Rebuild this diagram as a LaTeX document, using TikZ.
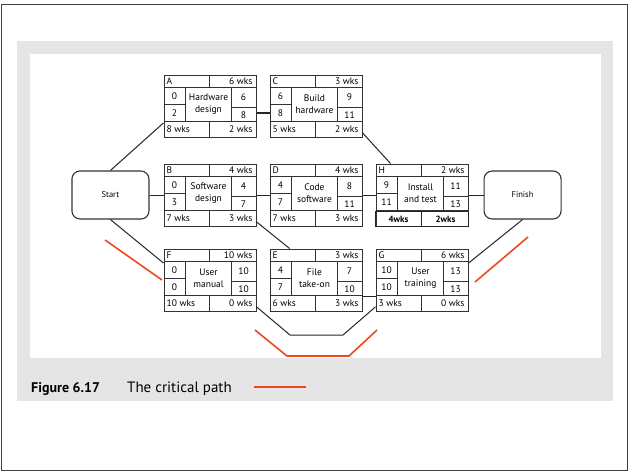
\documentclass[tikz,border=0pt]{standalone}
\usepackage{fontspec}
\setmainfont{PT Sans}
\usetikzlibrary{positioning}

\definecolor{panel}{RGB}{229,229,229}
\definecolor{critical}{RGB}{240,72,30}

\tikzset{
  act/.style={draw=black!80, line width=1pt, minimum width=92pt, minimum height=62pt, inner sep=0pt},
  grid/.style={draw=black!80, line width=0.9pt},
  cell/.style={inner sep=0pt, font=\fontsize{9.5}{11.5}\selectfont},
  terminal/.style={draw=black!80, line width=1.1pt, rounded corners=8pt, minimum width=77pt, minimum height=48pt, font=\fontsize{8.5}{10}\selectfont},
  link/.style={draw=black!85, line width=1pt},
  crit/.style={draw=critical, line width=1.6pt}
}

% grid and labels of one activity box
\newcommand{\fillbox}[9]{%
  \begin{scope}[shift={(#1.north west)}]
    \draw[grid] (0,12.5) -- (92,12.5) (0,47) -- (92,47)
      (46,0) -- (46,12.5) (22,12.5) -- (22,47) (68,12.5) -- (68,47)
      (0,30) -- (22,30) (68,33) -- (92,33) (46,47) -- (46,62);
    \node[cell, anchor=west] (#1-id) at (3,6.5) {#1};
    \node[cell, anchor=east] (#1-dur) at (89,6.5) {#2};
    \node[cell] (#1-es) at (11,21.5) {#3};
    \node[cell] (#1-ls) at (11,39) {#4};
    \node[cell] (#1-ef) at (80,23) {#5};
    \node[cell] (#1-lf) at (80,40.5) {#6};
    \node[cell, align=center] (#1-txt) at (45,29.5) {#7};
    \node[cell, anchor=west] (#1-tf) at (3,54.5) {#8};
    \node[cell, anchor=east] (#1-ff) at (89,54.5) {#9};
  \end{scope}}

\begin{document}
\begin{tikzpicture}[x=1pt, y=-1pt]
  \useasboundingbox (0,0) rectangle (629,471);
  \draw[black!75, line width=1pt] (1,4) rectangle (627,470);
  \fill[panel] (17,41) rectangle (613,401);
  \fill[white] (30,54) rectangle (601,358);

  % activities
  \node[act] (A) at (210,106) {};
  \node[act] (C) at (316,106) {};
  \node[act] (B) at (210,195) {};
  \node[act] (D) at (316,195) {};
  \node[act] (H) at (422,195) {};
  \node[act] (F) at (210,280) {};
  \node[act] (E) at (316,280) {};
  \node[act] (G) at (422,280) {};
  \node[terminal, left=14pt of B] (Start) {Start};
  \node[terminal, right=15pt of H] (Finish) {Finish};

  \fillbox{A}{6 wks}{0}{2}{6}{8}{Hardware\\design}{8 wks}{2 wks}
  \fillbox{C}{3 wks}{6}{8}{9}{11}{Build\\hardware}{5 wks}{2 wks}
  \fillbox{B}{4 wks}{0}{3}{4}{7}{Software\\design}{7 wks}{3 wks}
  \fillbox{D}{4 wks}{4}{7}{8}{11}{Code\\software}{7 wks}{3 wks}
  \fillbox{H}{2 wks}{9}{11}{11}{13}{Install\\and test}{}{}
  \fillbox{F}{10 wks}{0}{0}{10}{10}{User\\manual}{10 wks}{0 wks}
  \fillbox{E}{3 wks}{4}{7}{7}{10}{File\\take-on}{6 wks}{3 wks}
  \fillbox{G}{6 wks}{10}{10}{13}{13}{User\\training}{3 wks}{0 wks}

  % bold float row of H
  \draw[black!85, line width=1.4pt] ([yshift=15pt]H.south west) rectangle ([xshift=46pt]H.south west)
    ([xshift=46pt]H.south west) rectangle ([yshift=15pt]H.south east);
  \node[cell, font=\fontsize{9}{10}\bfseries] (H-tf) at ([xshift=23pt, yshift=7.5pt]H.south west) {4wks};
  \node[cell, font=\fontsize{9}{10}\bfseries] (H-ff) at ([xshift=-23pt, yshift=7.5pt]H.south east) {2wks};

  % connectors
  \coordinate (t1) at (290,335);
  \coordinate (t2) at (343,335);
  \draw[link] (Start.north) -- (A.200);
  \draw[link] (Start.east) -- (B.west);
  \draw[link] (Start.south) -- (F.160);
  \draw[link, line width=2pt] (A.-8) -- (C.188);
  \draw[link] (C.-30) -- (H.135);
  \draw[link] (B.east) -- (D.west);
  \draw[link] (B.-30) -- (E.130);
  \draw[link] (D.east) -- (H.west);
  \draw[link] (H.east) -- (Finish.west);
  \draw[link] (E.-19) -- (G.199);
  \draw[link] (F.-30) -- (t1) -- (t2) -- (G.210);
  \draw[link] (Finish.south) -- (G.20);

  % critical path marks
  \draw[crit] (105,240) -- (162,280);
  \draw[crit] (475,282) -- (528,237);
  \draw[crit] (255,330) -- (287,356) -- (349,356) -- (377,330);

  % caption
  \node[anchor=base west, inner sep=0pt, font=\fontsize{14}{17}\selectfont\bfseries] (fig) at (31,392) {Figure 6.17};
  \node[anchor=base west, inner sep=0pt, font=\fontsize{15}{18}\selectfont] (title) at (127,392) {The critical path};
  \draw[crit] (254,387) -- (306,387);
\end{tikzpicture}
\end{document}
